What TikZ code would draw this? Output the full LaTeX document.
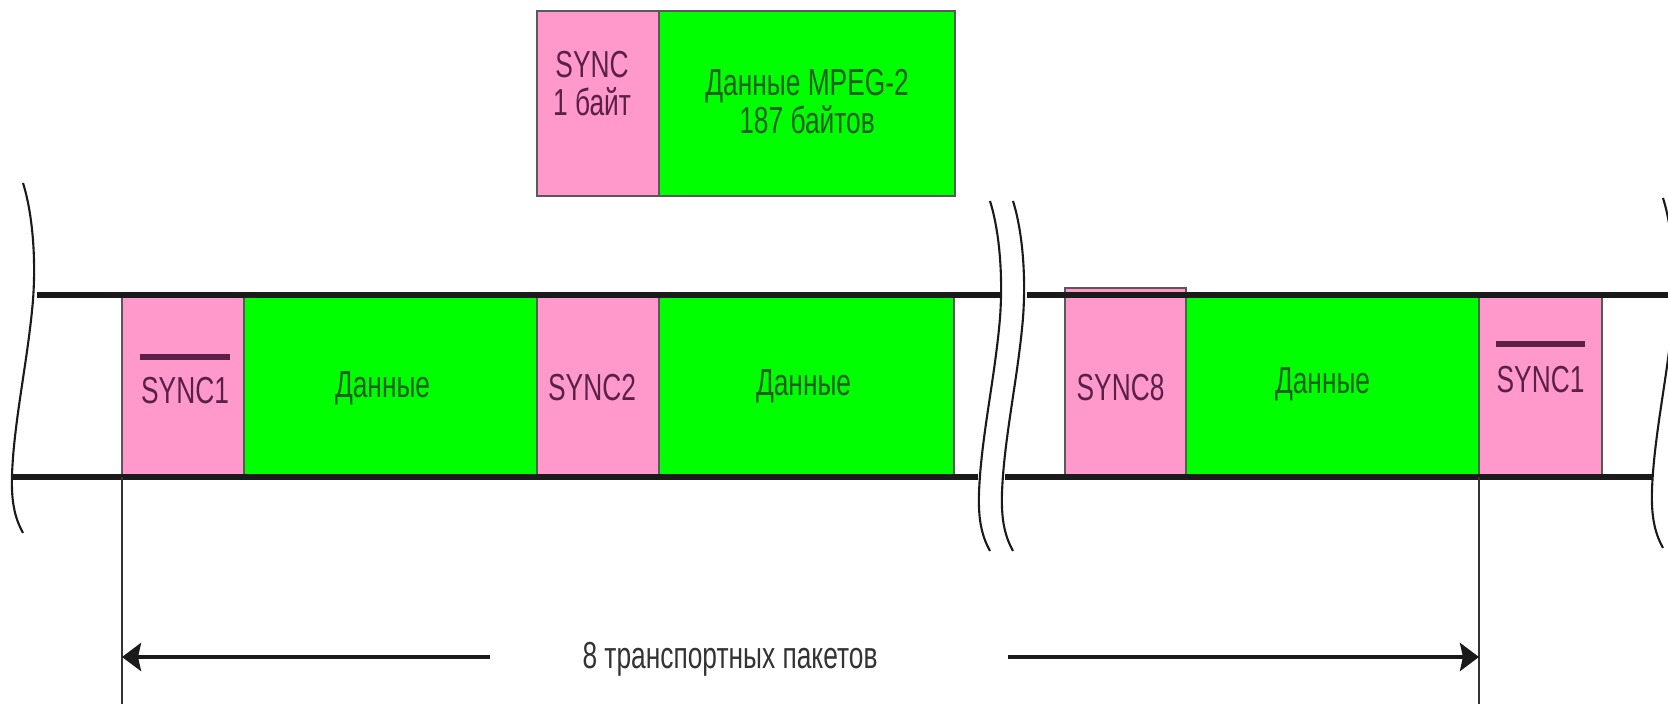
\documentclass[tikz,border=0pt]{standalone}
\usepackage{fontspec}
\setmainfont{Liberation Sans}
\usetikzlibrary{arrows.meta}

\definecolor{syncpink}{HTML}{FF99CC}
\definecolor{datagreen}{HTML}{00FF00}
\definecolor{synctext}{HTML}{5A2048}
\definecolor{datatext}{HTML}{1E5E1E}
\definecolor{barcol}{HTML}{5C1F45}
\definecolor{linecol}{HTML}{1A1A1A}

% condensed label text
\newcommand{\cnd}[1]{\scalebox{0.7}[1]{#1}}
% wavy break mark, origin at its upper end
\newcommand{\breakmark}[2]{%
  \draw[brk,shift={(#1,#2)}] (0,0) .. controls (10,32) and (13,77) .. (10,117)
    .. controls (5,177) and (-9,237) .. (-11,292)
    .. controls (-12,322) and (-7,337) .. (0,350);}

\begin{document}
\begin{tikzpicture}[x=0.01cm,y=-0.01cm,
  cell/.style={inner sep=0pt,outer sep=0pt,anchor=north west,draw=black!65,line width=0.5pt},
  pinkcell/.style={cell,fill=syncpink},
  greencell/.style={cell,fill=datagreen},
  lbl/.style={inner sep=0pt,align=center,font=\fontsize{10.7pt}{10.8pt}\selectfont},
  synclbl/.style={lbl,text=synctext},
  datalbl/.style={lbl,text=datatext},
  band/.style={draw=linecol,line width=1.6pt},
  brk/.style={draw=linecol,line width=0.6pt},
  tick/.style={draw=black!80,line width=0.5pt},
  overbar/.style={draw=barcol,line width=1.5pt},
  dimarrow/.style={draw=linecol,line width=1.1pt,-{Stealth[length=0.19cm,width=0.28cm,inset=0.03cm]}}
]
\useasboundingbox (0,0) rectangle (1668,704);

% packet layout
\node[pinkcell,minimum width=1.22cm,minimum height=1.85cm] (hs) at (537,11) {};
\node[greencell,minimum width=2.96cm,minimum height=1.85cm] (hd) at (659,11) {};
\node[synclbl] (hst) at ([xshift=-0.06cm,yshift=0.2cm]hs.center) {\cnd{SYNC}\\\cnd{1 байт}};
\node[datalbl] (hdt) at ([yshift=0.02cm]hd.center) {\cnd{Данные MPEG-2}\\\cnd{187 байтов}};

% stream cells
\node[pinkcell,minimum width=1.22cm,minimum height=1.82cm] (s1) at (122,295) {};
\node[greencell,minimum width=2.93cm,minimum height=1.82cm] (d1) at (244,295) {};
\node[pinkcell,minimum width=1.22cm,minimum height=1.82cm] (s2) at (537,295) {};
\node[greencell,minimum width=2.95cm,minimum height=1.82cm] (d2) at (659,295) {};
\node[pinkcell,minimum width=1.21cm,minimum height=1.89cm] (s8) at (1065,288) {};
\node[greencell,minimum width=2.93cm,minimum height=1.82cm] (d8) at (1186,295) {};
\node[pinkcell,minimum width=1.23cm,minimum height=1.82cm] (s1b) at (1479,295) {};

% band edges
\draw[band] (37,295) -- (1000,295);
\draw[band] (12,477) -- (978,477);
\draw[band] (1027,295) -- (1668,295);
\draw[band] (1005,477) -- (1653,477);

% cell labels
\node[synclbl] (s1t) at ([xshift=0.02cm,yshift=-0.05cm]s1.center) {\cnd{SYNC1}};
\node[datalbl] (d1t) at ([xshift=-0.08cm,yshift=-0.02cm]d1.center) {\cnd{Данные}};
\node[synclbl] (s2t) at ([xshift=-0.06cm,yshift=-0.02cm]s2.center) {\cnd{SYNC2}};
\node[datalbl] (d2t) at ([xshift=-0.03cm]d2.center) {\cnd{Данные}};
\node[synclbl] (s8t) at ([xshift=-0.05cm,yshift=-0.05cm]s8.center) {\cnd{SYNC8}};
\node[datalbl] (d8t) at ([xshift=-0.1cm,yshift=0.02cm]d8.center) {\cnd{Данные}};
\node[synclbl] (s1bt) at ([yshift=0.06cm]s1b.center) {\cnd{SYNC1}};

% inversion bars over SYNC1
\draw[overbar] ([yshift=0.2cm]s1t.north west) -- ([yshift=0.2cm]s1t.north east);
\draw[overbar] ([yshift=0.22cm]s1bt.north west) -- ([yshift=0.22cm]s1bt.north east);

% break marks
\breakmark{23}{183}
\breakmark{990}{201}
\breakmark{1013}{201}
\breakmark{1663}{198}

% span of eight packets
\draw[tick] (s1.south west) -- ++(0,227);
\draw[tick] (s1b.south west) -- ++(0,227);
\node[lbl,text=black!80] (span) at (730,659) {\cnd{8 транспортных пакетов}};
\coordinate (la) at (490,657);
\coordinate (ra) at (1008,657);
\draw[dimarrow] (la) -- (s1.south west |- la);
\draw[dimarrow] (ra) -- (s1b.south west |- ra);
\end{tikzpicture}
\end{document}
